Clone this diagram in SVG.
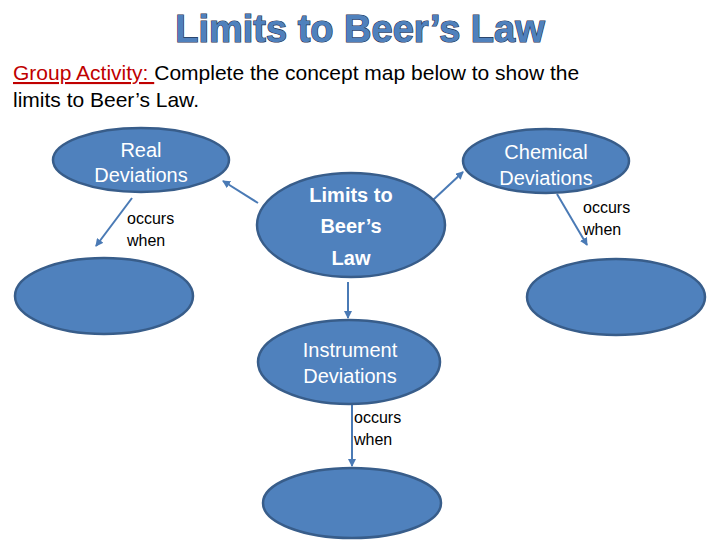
<svg xmlns="http://www.w3.org/2000/svg" width="720" height="540" viewBox="0 0 720 540">
<style>
.n{fill:#4f81bd;stroke:#385d8a;stroke-width:2.5}
.t{font-family:"Liberation Sans",Arial,sans-serif;fill:#fff;text-anchor:middle;font-size:20px}
.s{font-family:"Liberation Sans",Arial,sans-serif;fill:#000;font-size:16px}
.c line{stroke:#4a7ab5;stroke-width:2;marker-end:url(#a)}
</style>
<defs><marker id="a" markerWidth="8" markerHeight="8" refX="7" refY="4" orient="auto" markerUnits="userSpaceOnUse"><path d="M0,0 L8,4 L0,8 z" fill="#4a7ab5"/></marker></defs>
<rect width="720" height="540" fill="#fff"/>
<text x="360" y="42" text-anchor="middle" font-family="Liberation Sans,Arial,sans-serif" font-weight="bold" font-size="38" fill="#4f81bd" stroke="#1f2f4f" stroke-width="1.2" style="paint-order:stroke">Limits to Beer’s Law</text>
<text x="13" y="80" font-family="Liberation Sans,Arial,sans-serif" font-size="21" fill="#000"><tspan fill="#c00000" text-decoration="underline">Group Activity: </tspan>Complete the concept map below to show the</text>
<text x="13" y="107" font-family="Liberation Sans,Arial,sans-serif" font-size="21" fill="#000">limits to Beer’s Law.</text>
<g class="c">
<line x1="258" y1="203" x2="223" y2="181"/>
<line x1="132" y1="198" x2="96" y2="246"/>
<line x1="433" y1="200" x2="463" y2="172"/>
<line x1="557" y1="194" x2="587" y2="245"/>
<line x1="348" y1="282" x2="348" y2="318"/>
<line x1="352" y1="405" x2="352" y2="466"/>
</g>
<g id="real"><ellipse class="n" cx="141" cy="160" rx="88" ry="32"/><text class="t" x="141" y="157">Real</text><text class="t" x="141" y="182">Deviations</text></g>
<g id="limits"><ellipse class="n" cx="351" cy="225" rx="94" ry="52"/><text class="t" x="351" y="202" font-weight="bold" font-size="23">Limits to</text><text class="t" x="351" y="233" font-weight="bold" font-size="23">Beer’s</text><text class="t" x="351" y="265" font-weight="bold" font-size="23">Law</text></g>
<g id="chem"><ellipse class="n" cx="546" cy="161" rx="83" ry="32"/><text class="t" x="546" y="159">Chemical</text><text class="t" x="546" y="185">Deviations</text></g>
<g id="bl"><ellipse class="n" cx="104" cy="296" rx="89" ry="38"/></g>
<g id="br"><ellipse class="n" cx="616" cy="297" rx="89" ry="38"/></g>
<g id="inst"><ellipse class="n" cx="349" cy="362" rx="91" ry="42"/><text class="t" x="350" y="357">Instrument</text><text class="t" x="350" y="383">Deviations</text></g>
<g id="bottom"><ellipse class="n" cx="352" cy="503" rx="89" ry="35"/></g>
<text class="s" x="127" y="224">occurs</text><text class="s" x="127" y="246">when</text>
<text class="s" x="583" y="213">occurs</text><text class="s" x="583" y="235">when</text>
<text class="s" x="354" y="423">occurs</text><text class="s" x="354" y="445">when</text>
</svg>
